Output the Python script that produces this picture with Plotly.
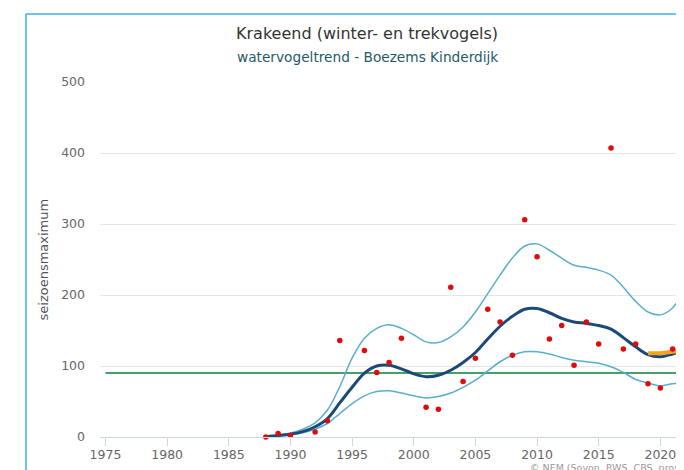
import plotly.graph_objects as go

# ---- data ----
trend_years = list(range(1988, 2023))
trend = [0.5, 2, 4, 7.5, 14.5, 26, 48, 70, 90, 100, 101, 96, 89, 85, 87, 94, 105, 119, 138,
         156, 170, 180, 181, 175, 167, 162, 160, 157, 152, 140, 127, 116, 113, 117, 122]
upper = [0.5, 2.5, 5.5, 11, 20, 38, 71, 111, 139, 153, 158, 153, 144, 134, 133, 141, 155, 176,
         202, 228, 252, 269, 272, 263, 252, 242, 239, 235, 228, 211, 191, 176, 172, 182, 210]
lower = [0.5, 1.5, 3, 6, 11, 19, 33, 47, 58, 64, 65, 62, 58, 55, 57, 62, 70, 80, 93, 106, 115,
         120, 120, 117, 112, 108, 106, 104, 99, 91, 81, 76, 72, 75, 75]

count_years = [1988, 1989, 1990, 1992, 1993, 1994, 1996, 1997, 1998, 1999, 2001, 2002, 2003,
               2004, 2005, 2006, 2007, 2008, 2009, 2010, 2011, 2012, 2013, 2014, 2015, 2016,
               2017, 2018, 2019, 2020, 2021, 2022]
counts = [0, 5, 2, 7, 23, 136, 122, 91, 105, 139, 42, 39, 211, 78, 111, 180, 162, 115, 306,
          254, 138, 157, 101, 162, 131, 407, 124, 131, 75, 69, 124, 213]

ref_years = [1975, 2022]
ref_level = [90, 90]

recent_years = [2019, 2020, 2021, 2022]
recent = [118, 118, 120, 122]

x_ticks = [1975, 1980, 1985, 1990, 1995, 2000, 2005, 2010, 2015, 2020]
y_ticks = [0, 100, 200, 300, 400, 500]

title = "Krakeend (winter- en trekvogels)"
subtitle = "watervogeltrend - Boezems Kinderdijk"
y_title = "seizoensmaximum"
credit = "© NEM (Sovon, RWS, CBS, provincies)"

# ---- geometry (pixels) ----
# the page body has an 8px margin, so the figure is drawn 8px in and 8px down
OFF = 8
W, H = 684 - OFF, 470 - OFF
PLOT_L, PLOT_R, PLOT_T, PLOT_B = 100, 684, 82, 437   # in window pixels
L, T = PLOT_L - OFF, PLOT_T - OFF
B = H - (PLOT_B - OFF)
R = 0
pw, ph = PLOT_R - PLOT_L, PLOT_B - PLOT_T


def px_x(p):
    return (p - PLOT_L) / pw


def px_y(p):
    return (PLOT_B - p) / ph


FONT = "DejaVu Sans"

fig = go.Figure()
fig.add_trace(go.Scatter(x=ref_years, y=ref_level, mode="lines",
                         line=dict(color="#4a9e6b", width=2), hoverinfo="skip"))
fig.add_trace(go.Scatter(x=trend_years, y=upper, mode="lines", line_shape="spline",
                         line=dict(color="#5aaecb", width=1.5)))
fig.add_trace(go.Scatter(x=trend_years, y=lower, mode="lines", line_shape="spline",
                         line=dict(color="#5aaecb", width=1.5)))
fig.add_trace(go.Scatter(x=trend_years, y=trend, mode="lines", line_shape="spline",
                         line=dict(color="#1b4a78", width=3)))
fig.add_trace(go.Scatter(x=recent_years, y=recent, mode="lines", line_shape="spline",
                         line=dict(color="#f5a21c", width=4)))
fig.add_trace(go.Scatter(x=count_years, y=counts, mode="markers", cliponaxis=False,
                         marker=dict(color="#e00a0a", size=5.5)))

fig.update_layout(
    width=W, height=H,
    margin=dict(l=L, r=R, t=T, b=B, pad=0),
    paper_bgcolor="white", plot_bgcolor="white",
    showlegend=False,
    font=dict(family=FONT, color="#666666"),
    xaxis=dict(range=[1975 + (PLOT_L - 105.5) / 12.33, 1975 + (PLOT_R - 105.5) / 12.33],
               tickvals=x_ticks,
               showgrid=False, zeroline=False, showline=True, linecolor="#ccd6eb",
               linewidth=1, ticks="outside", ticklen=8, tickcolor="#ccd6eb",
               ticklabelstandoff=-2,
               tickfont=dict(size=12.5, color="#666666")),
    yaxis=dict(range=[0, 500], tickvals=y_ticks, showgrid=True, gridcolor="#e6e6e6",
               gridwidth=1, zeroline=False, showline=False, ticks="",
               ticklabelstandoff=14, tickfont=dict(size=12.5, color="#666666")),
    shapes=[
        dict(type="line", xref="paper", yref="paper", x0=px_x(26), x1=px_x(26),
             y0=px_y(14), y1=px_y(480), line=dict(color="#3aaee6", width=1.5)),
        dict(type="line", xref="paper", yref="paper", x0=px_x(26), x1=px_x(700),
             y0=px_y(14), y1=px_y(14), line=dict(color="#3aaee6", width=1.5)),
    ],
    annotations=[
        dict(text=title, xref="paper", yref="paper", x=px_x(367), y=px_y(34),
             xanchor="center", yanchor="middle", showarrow=False,
             font=dict(size=16, color="#333333", family=FONT)),
        dict(text=subtitle, xref="paper", yref="paper", x=px_x(367), y=px_y(57),
             xanchor="center", yanchor="middle", showarrow=False,
             font=dict(size=13.7, color="#1f5a68", family=FONT)),
        dict(text=y_title, xref="paper", yref="paper", x=px_x(43), y=0.5, textangle=-90,
             xanchor="center", yanchor="middle", showarrow=False,
             font=dict(size=13, color="#555555", family=FONT)),
        dict(text=credit, xref="paper", yref="paper", x=px_x(528), y=px_y(468),
             xanchor="left", yanchor="middle", showarrow=False,
             font=dict(size=9.5, color="#999999", family=FONT)),
    ],
)

fig.write_html("out.html")
